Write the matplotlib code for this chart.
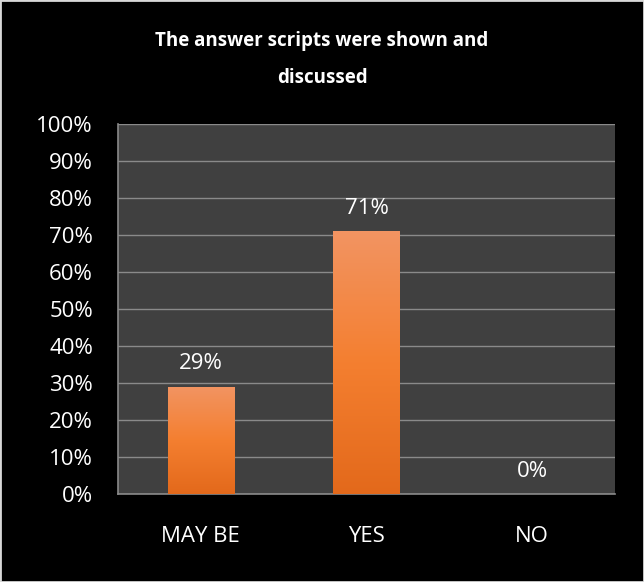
import matplotlib.pyplot as plt
import numpy as np
from matplotlib.colors import LinearSegmentedColormap
from matplotlib.patches import Rectangle

categories = ["MAY BE", "YES", "NO"]
values = [29, 71, 0]
yticks = list(range(0, 101, 10))
title = "The answer scripts were shown and\ndiscussed"

plt.rcParams['font.family'] = ['Open Sans', 'DejaVu Sans']

fig = plt.figure(figsize=(6.44, 5.82), dpi=100, facecolor='black')
ax = fig.add_axes([0.1832, 0.1512, 0.7717, 0.6357])
ax.set_facecolor('#404040')

x = np.arange(len(categories))
bars = ax.bar(x, values, width=0.40, color='#F07C2C', zorder=3)

# vertical gradient on each bar, clipped to the bar
cmap = LinearSegmentedColormap.from_list('orng', ['#E3691B', '#F47F30', '#F29462'])
grad = np.linspace(0, 1, 256).reshape(-1, 1)
for b in bars:
    if b.get_height() <= 0:
        continue
    im = ax.imshow(grad, cmap=cmap, origin='lower', aspect='auto', zorder=4,
                   extent=[b.get_x(), b.get_x() + b.get_width(), 0, b.get_height()])
    im.set_clip_path(b)

for xi, v in zip(x, values):
    ax.annotate(f"{v}%", (xi, v), xytext=(0, 9), textcoords='offset points',
                ha='center', va='bottom', color='white', fontsize=16, zorder=5)

ax.set_xlim(-0.5, len(categories) - 0.5)
ax.set_ylim(0, 100)
ax.set_yticks(yticks)
ax.set_yticklabels([f"{t}%" for t in yticks])
ax.set_xticks(x)
ax.set_xticklabels(categories)
ax.tick_params(colors='white', labelsize=16, length=0)
ax.tick_params(axis='y', pad=18)
ax.tick_params(axis='x', pad=23)
ax.grid(axis='y', color='#8a8a8a', linewidth=1, zorder=0)
ax.set_axisbelow(True)
for s in ['top', 'right']:
    ax.spines[s].set_visible(False)
for s in ['left', 'bottom']:
    ax.spines[s].set_color('#8a8a8a')
    ax.spines[s].set_linewidth(1.2)

fig.text(0.5, 0.898, title, ha='center', va='center', color='white',
         fontsize=13.5, fontweight='bold', linespacing=2.15)

fig.patches.append(Rectangle((0, 0), 1, 1, transform=fig.transFigure, fill=False,
                             edgecolor='#d9d9d9', linewidth=2))

fig.savefig('out.png', dpi=100, facecolor='black')
